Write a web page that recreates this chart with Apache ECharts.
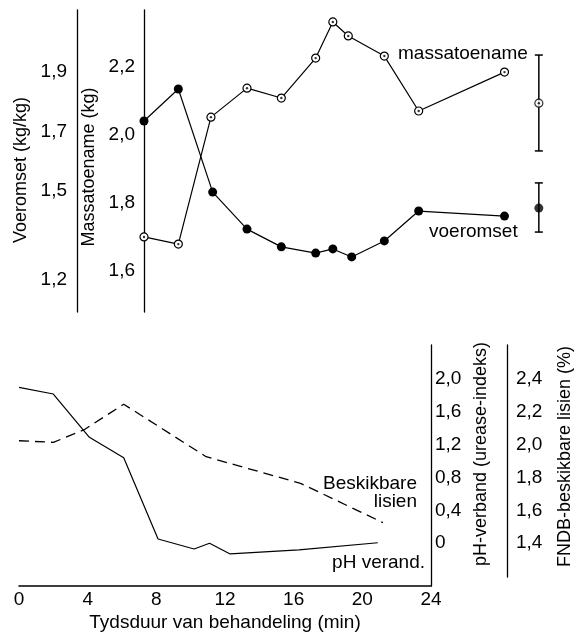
<!DOCTYPE html>
<html><head><meta charset="utf-8">
<script src="https://cdn.jsdelivr.net/npm/echarts@6/dist/echarts.min.js"></script>
<style>html,body{margin:0;padding:0;background:#fff}#c{width:582px;height:636px}</style>
</head><body><div id="c"></div>
<script>
// ---- data ----
const massTime = [0, 2, 3.9, 6, 8, 10, 11, 11.9, 14, 16, 21];
const massGain = [1.700, 1.679, 2.051, 2.136, 2.107, 2.224, 2.330, 2.289, 2.230, 2.069, 2.183];
const feedTime = [0, 2, 4, 6, 8, 10, 11, 12.1, 14, 16, 21];
const feedConv = [1.735, 1.843, 1.495, 1.370, 1.310, 1.289, 1.303, 1.276, 1.330, 1.431, 1.414];
const errTime = [23];
const massErr = [2.092, 1.952, 2.233];   // mean, low, high
const feedErr = [1.441, 1.360, 1.526];
const phTime = [0, 2, 4.1, 6.1, 8.1, 10.2, 11.1, 12.3, 16.3, 20.9];
const phChange = [1.895, 1.814, 1.288, 1.04, 0.051, -0.07, 0.0, -0.13, -0.08, 0.006];
const lysTime = [0, 2, 3.8, 6.1, 10.9, 16.4, 21.2];
const lysAvail = [2.023, 2.013, 2.09, 2.245, 1.926, 1.764, 1.525];
const timeTicks = [0, 4, 8, 12, 16, 20, 24];
const massTicks = [1.6, 1.8, 2.0, 2.2];
const feedTicks = [1.2, 1.5, 1.7, 1.9];
const phTicks = [0, 0.4, 0.8, 1.2, 1.6, 2.0];
const lysTicks = [1.4, 1.6, 1.8, 2.0, 2.2, 2.4];

const FONT = 'Liberation Sans, Arial, sans-serif';
const fmt = v => (Math.abs(v) < 1e-9 ? '0' : Number(v).toFixed(1).replace('.', ','));
const zip = (a, b) => a.map((x, i) => [x, b[i]]);
const black = '#000';

const chart = echarts.init(document.getElementById('c'), null, {renderer: 'canvas'});

function lblStyle(vals, margin) {
  return {customValues: vals, formatter: fmt, fontSize: 19, fontFamily: FONT, color: black, margin: margin};
}
function nameStyle(pad) {
  return {fontSize: 18, fontFamily: FONT, color: black, padding: pad};
}
function errRender(params, api) {
  const x = api.value(0);
  const lo = api.coord([x, api.value(2)]);
  const hi = api.coord([x, api.value(3)]);
  const w = 4;
  const st = {stroke: black, lineWidth: 1.5};
  return {type: 'group', children: [
    {type: 'line', shape: {x1: lo[0], y1: lo[1], x2: hi[0], y2: hi[1]}, style: st},
    {type: 'line', shape: {x1: lo[0] - w, y1: lo[1], x2: lo[0] + w, y2: lo[1]}, style: st},
    {type: 'line', shape: {x1: hi[0] - w, y1: hi[1], x2: hi[0] + w, y2: hi[1]}, style: st}
  ]};
}

const hiddenX = (g) => ({type: 'value', gridIndex: g, min: 0, max: 24, show: false});

const option = {
  animation: false,
  backgroundColor: '#fff',
  textStyle: {fontFamily: FONT},
  grid: [
    {left: 144, top: 10, width: 412, height: 302, outerBoundsMode: 'none', containLabel: false},
    {left: 19, top: 345, width: 412, height: 241, outerBoundsMode: 'none', containLabel: false},
    {left: 19, top: 345, width: 412, height: 232, outerBoundsMode: 'none', containLabel: false}
  ],
  xAxis: [
    hiddenX(0),
    {type: 'value', gridIndex: 1, min: 0, max: 24, interval: 4,
     axisLine: {show: true, onZero: false, lineStyle: {color: black, width: 1.6}},
     axisTick: {show: false}, splitLine: {show: false},
     axisLabel: {customValues: timeTicks, fontSize: 19, fontFamily: FONT, color: black, margin: 4},
     name: 'Tydsduur van behandeling (min)', nameLocation: 'middle', nameGap: 27,
     nameTextStyle: {fontSize: 19, fontFamily: FONT, color: black}},
    hiddenX(2)
  ],
  yAxis: [
    {type: 'value', gridIndex: 0, position: 'left', offset: 0, min: 1.48, max: 2.365,
     axisLine: {show: true, onZero: false, lineStyle: {color: black, width: 1.3}},
     axisTick: {show: false}, splitLine: {show: false},
     axisLabel: lblStyle(massTicks, 9),
     name: 'Massatoename (kg)', nameLocation: 'middle', nameRotate: 90, nameGap: 39,
     nameTextStyle: nameStyle([0, 12, 0, 0])},
    {type: 'value', gridIndex: 0, position: 'left', offset: 67, min: 1.09, max: 2.11,
     axisLine: {show: true, onZero: false, lineStyle: {color: black, width: 1.3}},
     axisTick: {show: false}, splitLine: {show: false},
     axisLabel: lblStyle(feedTicks, 10),
     name: 'Voeromset (kg/kg)', nameLocation: 'middle', nameRotate: 90, nameGap: 43,
     nameTextStyle: nameStyle([0, 18, 0, 0])},
    {type: 'value', gridIndex: 1, position: 'right', offset: 0, min: -0.52, max: 2.41,
     axisLine: {show: true, onZero: false, lineStyle: {color: black, width: 1.3}},
     axisTick: {show: false}, splitLine: {show: false},
     axisLabel: lblStyle(phTicks, 4),
     name: 'pH-verband (urease-indeks)', nameLocation: 'middle', nameRotate: 90, nameGap: 41,
     nameTextStyle: nameStyle([0, 0, 0, 23])},
    {type: 'value', gridIndex: 2, position: 'right', offset: 76, min: 1.1945, max: 2.605,
     axisLine: {show: true, onZero: false, lineStyle: {color: black, width: 1.3}},
     axisTick: {show: false}, splitLine: {show: false},
     axisLabel: lblStyle(lysTicks, 9),
     name: 'FNDB-beskikbare lisien (%)', nameLocation: 'middle', nameRotate: 90, nameGap: 49,
     nameTextStyle: nameStyle([0, 0, 0, 9])}
  ],
  series: [
    {name: 'voeromset', type: 'line', xAxisIndex: 0, yAxisIndex: 1, data: zip(feedTime, feedConv),
     symbol: 'circle', symbolSize: 9, showSymbol: true, silent: true,
     lineStyle: {color: black, width: 1.2}, itemStyle: {color: black, borderWidth: 0}, z: 3},
    {name: 'massatoename', type: 'line', xAxisIndex: 0, yAxisIndex: 0, data: zip(massTime, massGain),
     symbol: 'circle', symbolSize: 8, showSymbol: true, silent: true,
     lineStyle: {color: black, width: 1.2}, itemStyle: {color: '#fff', borderColor: black, borderWidth: 1.2}, z: 4},
    {type: 'scatter', xAxisIndex: 0, yAxisIndex: 0, data: zip(massTime, massGain),
     symbolSize: 2.4, itemStyle: {color: black}, silent: true, z: 5},
    {type: 'custom', xAxisIndex: 0, yAxisIndex: 0, renderItem: errRender, silent: true,
     data: errTime.map(t => [t, massErr[0], massErr[1], massErr[2]]), encode: {x: 0, y: [1, 2, 3]}, z: 2},
    {type: 'custom', xAxisIndex: 0, yAxisIndex: 1, renderItem: errRender, silent: true,
     data: errTime.map(t => [t, feedErr[0], feedErr[1], feedErr[2]]), encode: {x: 0, y: [1, 2, 3]}, z: 2},
    {type: 'scatter', xAxisIndex: 0, yAxisIndex: 0, data: errTime.map(t => [t, massErr[0]]),
     symbolSize: 8, itemStyle: {color: '#fff', borderColor: black, borderWidth: 1.2}, silent: true, z: 4},
    {type: 'scatter', xAxisIndex: 0, yAxisIndex: 0, data: errTime.map(t => [t, massErr[0]]),
     symbolSize: 2.4, itemStyle: {color: black}, silent: true, z: 5},
    {type: 'scatter', xAxisIndex: 0, yAxisIndex: 1, data: errTime.map(t => [t, feedErr[0]]),
     symbolSize: 9, itemStyle: {color: black}, silent: true, z: 4},
    {name: 'pH verand.', type: 'line', xAxisIndex: 1, yAxisIndex: 2, data: zip(phTime, phChange),
     showSymbol: false, symbol: 'none', silent: true, lineStyle: {color: black, width: 1.2}},
    {name: 'Beskikbare lisien', type: 'line', xAxisIndex: 2, yAxisIndex: 3, data: zip(lysTime, lysAvail),
     showSymbol: false, symbol: 'none', silent: true, lineStyle: {color: black, width: 1.3, type: [10, 6]}}
  ],
  graphic: [
    {type: 'text', x: 398, y: 54, silent: true,
     style: {text: 'massatoename', font: '19px ' + FONT, fill: black, align: 'left', verticalAlign: 'middle'}},
    {type: 'text', x: 429, y: 232, silent: true,
     style: {text: 'voeromset', font: '19px ' + FONT, fill: black, align: 'left', verticalAlign: 'middle'}},
    {type: 'text', x: 417, y: 484, silent: true,
     style: {text: 'Beskikbare', font: '19px ' + FONT, fill: black, align: 'right', verticalAlign: 'middle'}},
    {type: 'text', x: 417, y: 502, silent: true,
     style: {text: 'lisien', font: '19px ' + FONT, fill: black, align: 'right', verticalAlign: 'middle'}},
    {type: 'text', x: 425, y: 563, silent: true,
     style: {text: 'pH verand.', font: '19px ' + FONT, fill: black, align: 'right', verticalAlign: 'middle'}}
  ]
};
chart.setOption(option);
</script>
</body></html>
